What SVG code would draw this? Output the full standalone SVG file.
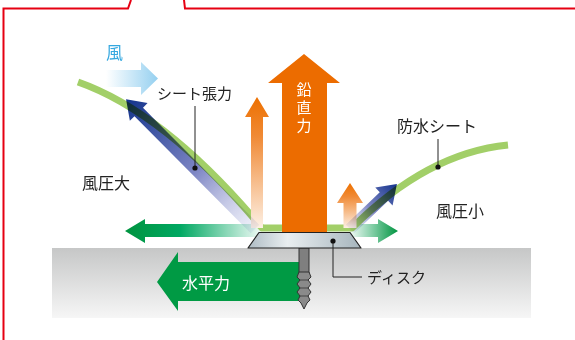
<svg xmlns="http://www.w3.org/2000/svg" width="575" height="340" viewBox="0 0 575 340">
  <defs>
    <style>
      .lbl { font-family: "Noto Sans CJK JP", "Noto Sans", sans-serif; fill: #222; }
      .wht { font-family: "Noto Sans CJK JP", "Noto Sans", sans-serif; fill: #fff; }
      .lead { fill: none; stroke: #222; stroke-width: 1; }
      .blue { mix-blend-mode: multiply; }
    </style>
    <linearGradient id="groundGrad" x1="0" y1="0" x2="0" y2="1">
      <stop offset="0" stop-color="#c6c7c7"/>
      <stop offset="1" stop-color="#f6f6f6"/>
    </linearGradient>
    <linearGradient id="windGrad" x1="106" y1="0" x2="158" y2="0" gradientUnits="userSpaceOnUse">
      <stop offset="0" stop-color="#ffffff"/>
      <stop offset="1" stop-color="#95d0f0"/>
    </linearGradient>
    <linearGradient id="discGrad" x1="248" y1="0" x2="361" y2="0" gradientUnits="userSpaceOnUse">
      <stop offset="0" stop-color="#aebcc4"/>
      <stop offset="0.35" stop-color="#e9eef0"/>
      <stop offset="1" stop-color="#a6b5bd"/>
    </linearGradient>
    <linearGradient id="orangeFade" x1="0" y1="0" x2="0" y2="1">
      <stop offset="0" stop-color="#ed7000"/>
      <stop offset="0.3" stop-color="#f08a35"/>
      <stop offset="1" stop-color="#fdf0e4"/>
    </linearGradient>
    <linearGradient id="greenLeft" x1="125" y1="0" x2="262" y2="0" gradientUnits="userSpaceOnUse">
      <stop offset="0" stop-color="#00933f"/>
      <stop offset="0.4" stop-color="#00a862"/>
      <stop offset="1" stop-color="#00a862" stop-opacity="0.05"/>
    </linearGradient>
    <linearGradient id="greenRight" x1="350" y1="0" x2="398" y2="0" gradientUnits="userSpaceOnUse">
      <stop offset="0" stop-color="#00a050" stop-opacity="0.05"/>
      <stop offset="1" stop-color="#00933f"/>
    </linearGradient>
    <linearGradient id="blueGrad" x1="0" y1="0" x2="1" y2="0">
      <stop offset="0" stop-color="#e6e8f6" stop-opacity="0.6"/>
      <stop offset="0.45" stop-color="#7e86c4"/>
      <stop offset="1" stop-color="#13338c"/>
    </linearGradient>
  </defs>

  <!-- frame -->
  <path d="M3.5,340 V8.5 H128 L131,0 M184,0 L185,8.5 H575" fill="none" stroke="#e60012" stroke-width="2"/>

  <!-- ground -->
  <rect id="ground" x="52" y="248" width="479" height="70" fill="url(#groundGrad)"/>

  <g id="horizontal-force">
    <polygon points="157,282 178,252 178,262 300,262 300,301 178,301 178,311" fill="#009a44"/>
    <text class="wht" x="182" y="289" font-size="16">水平力</text>
  </g>

  <g id="wind">
    <text x="106" y="59" font-size="17" fill="#35a8e0" font-family="Noto Sans CJK JP, Noto Sans, sans-serif">風</text>
    <polygon points="106,70 141,70 141,62 158,78.5 141,95 141,87 106,87" fill="url(#windGrad)"/>
  </g>

  <g id="connectors">
    <!-- lateral pull on the sheet -->
    <polygon points="125,231 145,219 145,224 262,224 262,237 145,237 145,243" fill="url(#greenLeft)"/>
    <polygon points="398,231 378,219 378,224 350,224 350,237 378,237 378,243" fill="url(#greenRight)"/>
  </g>

  <g id="sheet">
    <path d="M78,82 Q166,113 262,228 H352 Q427,153 508,145" fill="none" stroke="#a2cf68" stroke-width="7" stroke-linejoin="round"/>
  </g>

  <g id="uplift">
    <polygon points="257,97 269,117 263,117 263,228 251,228 251,117 245,117" fill="url(#orangeFade)"/>
    <polygon points="350,183 363,203 356.5,203 356.5,228 343.5,228 343.5,203 337,203" fill="url(#orangeFade)"/>
    <polygon points="304,54 340,83 327,83 327,233 282,233 282,83 268,83" fill="#ec6c00"/>
    <text class="wht" x="304" y="82" font-size="15" writing-mode="vertical-rl" letter-spacing="3">鉛直力</text>
  </g>

  <g id="tension">
    <g class="blue" transform="translate(255,229) rotate(-134.8)">
      <polygon points="0,-6 165,-6 165,-12.5 183,0 165,12.5 165,6 0,6" fill="url(#blueGrad)"/>
    </g>
    <g class="blue" transform="translate(350,229) rotate(-43.8)">
      <polygon points="0,-6 47,-6 47,-12.5 65,0 47,12.5 47,6 0,6" fill="url(#blueGrad)"/>
    </g>
  </g>

  <g id="screw">
    <rect x="299" y="248" width="10" height="26" fill="#7f7f7f" stroke="#333" stroke-width="1"/>
    <polygon points="299,272 309,272 311,277 308,280 311,284 308,288 311,292 308,296 310,300 307,303 304,309 301,303 298,300 300,296 297,292 300,288 297,284 300,280 297,277" fill="#8a8a8a" stroke="#333" stroke-width="1" stroke-linejoin="round"/>
    <path d="M299,280 H309 M299,288 H309 M299,296 H309" stroke="#333" stroke-width="0.8"/>
  </g>

  <g id="disc">
    <polygon points="259,232.5 350,232.5 361,248 248,248" fill="url(#discGrad)" stroke="#222" stroke-width="1.2" stroke-linejoin="round"/>
  </g>

  <g id="labels">
    <path class="lead" d="M195,106 V168"/>
    <circle cx="195" cy="168" r="2.6" fill="#111"/>
    <text class="lbl" x="157" y="99" font-size="15">シート張力</text>

    <path class="lead" d="M438,139 V167"/>
    <circle cx="438" cy="167" r="2.6" fill="#111"/>
    <text class="lbl" x="397" y="132" font-size="16">防水シート</text>

    <path class="lead" d="M333,241 V277 H362"/>
    <circle cx="333" cy="241" r="2.6" fill="#111"/>
    <text class="lbl" x="367" y="283" font-size="15">ディスク</text>

    <text class="lbl" x="82" y="189" font-size="16">風圧大</text>
    <text class="lbl" x="436" y="217" font-size="16">風圧小</text>
  </g>
</svg>
